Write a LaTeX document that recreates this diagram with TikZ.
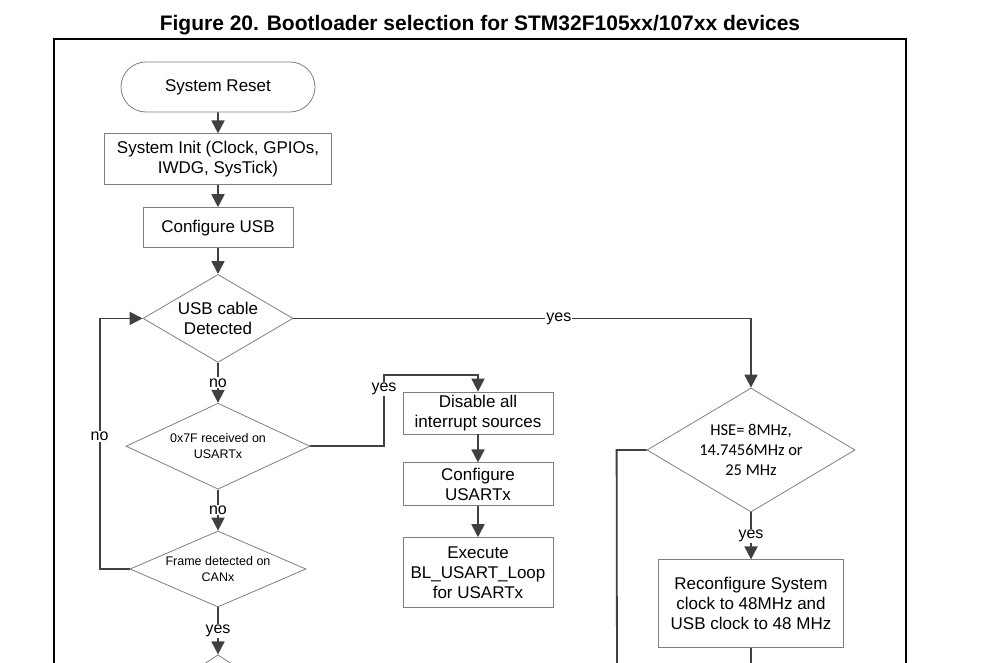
\documentclass[tikz,border=0pt]{standalone}
\usepackage{fontspec}
\setmainfont{Liberation Sans}
\newfontfamily\calibri{Carlito}
\usetikzlibrary{shapes}
\usetikzlibrary{arrows.meta}
\usetikzlibrary{positioning}
\definecolor{lineclr}{HTML}{404040}
\definecolor{bordclr}{HTML}{7F7F7F}

\begin{document}
\begin{tikzpicture}[x=1pt,y=-1pt,
            font=\fontsize{17}{20}\selectfont,
            box/.style = {draw=bordclr,line width=0.8pt,fill=white,
                align=center,inner sep=2pt},
            startbox/.style = {box,rounded rectangle},
            decision/.style = {draw=bordclr,line width=0.8pt,diamond,
                aspect=1.7,inner sep=0pt,align=center},
            smalltext/.style = {font=\fontsize{12.5}{15.5}\selectfont,
                inner sep=-2pt},
            conn/.style = {draw=lineclr,line width=1.8pt,
                -{Triangle[width=13pt,length=13pt]}},
            wire/.style = {draw=lineclr,line width=1.8pt},
            lbl/.style = {fill=white,inner sep=1pt,
                font=\fontsize{16}{18}\selectfont}]
            \useasboundingbox (0,0) rectangle (999,662);
            \clip (0,0) rectangle (999,662);
            \node[font=\bfseries\fontsize{21}{24}\selectfont] (title) at (480,25)
                {Figure 20. Bootloader selection for STM32F105xx/107xx devices};
            \draw[black,line width=1.4pt] (54,39) rectangle (906,700);
            % left column
            \node[startbox,minimum width=198pt,minimum height=50pt] (reset) at (218,87) {System Reset};
            \node[box,below=21pt of reset,minimum width=227pt,minimum height=51pt] (init)
                {System Init (Clock, GPIOs,\\IWDG, SysTick)};
            \node[box,below=22pt of init,minimum width=150pt,minimum height=40pt] (cfgusb) {Configure USB};
            \node[decision,below=26pt of cfgusb,minimum width=150pt,minimum height=88pt] (usb)
                {USB cable\\Detected};
            \node[decision,smalltext,aspect=2.14,below=40pt of usb,minimum width=184pt,minimum height=86pt] (usart)
                {0x7F received on\\USARTx};
            \node[decision,smalltext,aspect=2.3,below=41pt of usart,minimum width=176pt,minimum height=76pt] (canx)
                {Frame detected on\\CANx};
            \node[decision,below=47pt of canx,minimum width=150pt,minimum height=98pt] (next) {};
            % usart column
            \node[box,minimum width=150pt,minimum height=42pt] (disable) at (478,413)
                {Disable all\\interrupt sources};
            \node[box,below=28pt of disable,minimum width=150pt,minimum height=43pt] (cfgusart)
                {Configure\\USARTx};
            \node[box,below=31pt of cfgusart,minimum width=150pt,minimum height=70pt] (exec)
                {Execute\\BL\_USART\_Loop\\for USARTx};
            % usb column
            \node[decision,font=\calibri\fontsize{16.5}{20}\selectfont,minimum width=208pt,minimum height=124pt] (hse) at (751,450)
                {HSE= 8MHz,\\14.7456MHz or\\25 MHz};
            \node[box,below=47pt of hse,minimum width=185pt,minimum height=88pt] (reconf)
                {Reconfigure System\\clock to 48MHz and\\USB clock to 48 MHz};
            \coordinate (ycorner) at (384,375);
            \coordinate (hseout) at (617,690);
            \coordinate (reconfout) at (751,690);
            % connectors
            \draw[conn] (reset) -- (init);
            \draw[conn] (init) -- (cfgusb);
            \draw[conn] (cfgusb) -- (usb);
            \draw[conn] (usb) -- node[lbl]{no} (usart);
            \draw[conn] (usart) -- node[lbl]{no} (canx);
            \draw[conn] (canx) -- node[lbl]{yes} (next);
            \draw[conn] (canx.west) -- ++(-30,0) |- node[lbl,pos=0.265]{no} (usb.west);
            \draw[conn] (usart.east) -| node[lbl,pos=0.9]{yes} (ycorner) -| (disable.north);
            \draw[conn] (disable) -- (cfgusart);
            \draw[conn] (cfgusart) -- (exec);
            \draw[conn] (usb.east) -| node[lbl,pos=0.29]{yes} (hse.north);
            \draw[conn] (hse) -- node[lbl]{yes} (reconf);
            \draw[wire] (hse.west) -- ++(-30,0) -- (hseout);
            \draw[wire] (reconf) -- (reconfout);
\end{tikzpicture}
\end{document}
